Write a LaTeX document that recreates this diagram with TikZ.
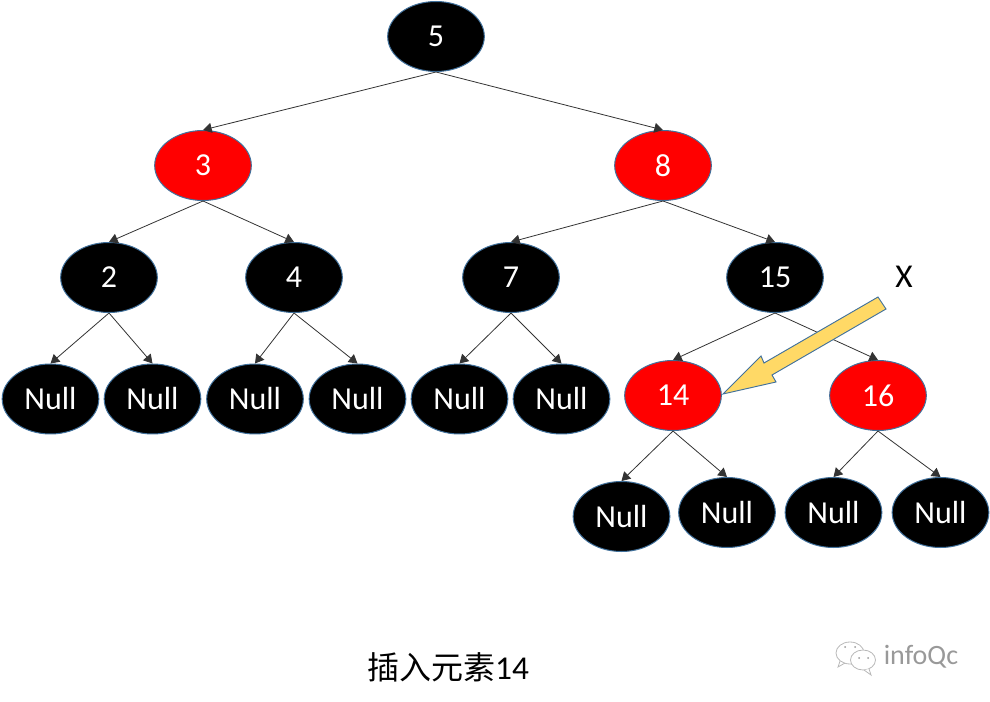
\documentclass[tikz,border=0pt]{standalone}
\usepackage{fontspec}
\setmainfont{Carlito}
\newfontfamily\cjk{Noto Sans CJK SC}
\usepackage{tikz}
\usetikzlibrary {arrows.meta}
\usetikzlibrary {shapes.geometric}
\definecolor{rimblue}{HTML}{41719C}
\definecolor{pointer}{HTML}{FFD966}
\tikzset{
  blacknode/.style={ellipse,draw=rimblue,line width=0.75pt,fill=black,text=white,inner sep=0pt,minimum width=72.5pt,minimum height=52.5pt,font=\fontsize{24}{26}\selectfont},
  rednode/.style={blacknode,fill=red},
  link/.style={-{Triangle[length=6.5pt,width=7.5pt]},draw=black!80,line width=0.6pt},
  markline/.style={black!28,line width=0.6pt}
}
\begin{document}
\begin{tikzpicture}[x=0.75pt,y=-0.75pt]
        \useasboundingbox (0,0) rectangle (990,702);
        \node[blacknode] (n5) at (436,36.5) {5};%根
        \node[rednode] (n3) at (203,165.5) {3};
        \node[rednode] (n8) at (663,165.5) {8};
        \node[blacknode] (n2) at (109,277.5) {2};
        \node[blacknode] (n4) at (294,277.5) {4};
        \node[blacknode] (n7) at (511,277.5) {7};
        \node[blacknode] (n15) at (775,277.5) {15};
        \node[rednode] (n14) at (673,395.5) {14};
        \node[rednode] (n16) at (878,395.5) {16};
        \node[blacknode] (a1) at (50.5,399) {Null};%葉
        \node[blacknode] (a2) at (152.5,399) {Null};
        \node[blacknode] (b1) at (255,399) {Null};
        \node[blacknode] (b2) at (357.5,399) {Null};
        \node[blacknode] (c1) at (459.5,399) {Null};
        \node[blacknode] (c2) at (561.5,399) {Null};
        \node[blacknode] (d1) at (621.5,516.5) {Null};
        \node[blacknode] (d2) at (727,512.5) {Null};
        \node[blacknode] (e1) at (833.5,512.5) {Null};
        \node[blacknode] (e2) at (940.5,512.5) {Null};

        \draw[link](n5.south)--(n3.north);
        \draw[link](n5.south)--(n8.north);
        \draw[link](n3.south)--(n2.north);
        \draw[link](n3.south)--(n4.north);
        \draw[link](n8.south)--(n7.north);
        \draw[link](n8.south)--(n15.north);
        \draw[link](n2.south)--(a1.north);
        \draw[link](n2.south)--(a2.north);
        \draw[link](n4.south)--(b1.north);
        \draw[link](n4.south)--(b2.north);
        \draw[link](n7.south)--(c1.north);
        \draw[link](n7.south)--(c2.north);
        \draw[link](n15.south)--(n14.north);
        \draw[link](n15.south)--(n16.north);
        \draw[link](n14.south)--(d1.north);
        \draw[link](n14.south)--(d2.north);
        \draw[link](n16.south)--(e1.north);
        \draw[link](n16.south)--(e2.north);

        \draw[draw=rimblue,fill=pointer,line width=0.7pt](878,297)--(886,309)--(772,375)--(776,382)--(723,394)--(761,356)--(764,363)--cycle;%矢印
        \node[font=\fontsize{25}{27}\selectfont] (xlabel) at (904,277) {X};
        \node[font=\fontsize{25}{27}\selectfont,inner sep=0pt] (caption) at (448,667) {{\cjk\fontsize{24}{26}\selectfont 插入元素}14};

        \draw[markline](850,653)ellipse[x radius=14,y radius=11];%水印
        \draw[markline,fill=white](863,660)ellipse[x radius=12.5,y radius=10];
        \draw[markline](840,661)--(838,667)--(845,663);
        \draw[markline,fill=white](869,669)--(871,675)--(864,670);
        \fill[black!40](845,647)circle(1)(855,647)circle(1)(859,658)circle(1)(868,658)circle(1);
        \node[text=black!40,font=\fontsize{21}{23}\selectfont,inner sep=0pt] (mark) at (921,657) {infoQc};
      \end{tikzpicture}
\end{document}
